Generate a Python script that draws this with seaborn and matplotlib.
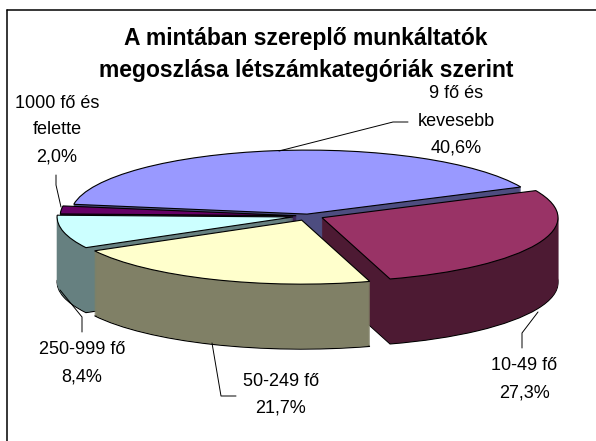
import matplotlib
matplotlib.use("Agg")
import matplotlib.pyplot as plt
import seaborn as sns

labels = ["9 fő és\nkevesebb", "10-49 fő", "50-249 fő", "250-999 fő", "1000 fő és\nfelette"]
values = [40.6, 27.3, 21.7, 8.4, 2.0]
value_text = ["40,6%", "27,3%", "21,7%", "8,4%", "2,0%"]
title_lines = ["A mintában szereplő munkáltatók", "megoszlása létszámkategóriák szerint"]

top_colors = sns.color_palette(["#9999FF", "#993366", "#FFFFCC", "#CCFFFF", "#660066"])
side_colors = sns.color_palette(["#4D4D80", "#4D1A33", "#808066", "#668080", "#330033"])

explode = [0.03, 0.065, 0.07, 0.065, 0.05]
paint_rank = [0, 1, 4, 3, 2]
label_xy = [(456, 94), (524, 366), (281, 381), (82, 350), (57, 103)]
leaders = [
    [(279, 151), (393, 122), (408, 122)],
    [(538, 312), (522, 333), (522, 348)],
    [(212, 343), (221, 396), (236, 396)],
    [(60, 290), (82, 317), (82, 332)],
    [(56, 175), (56, 185), (61, 207)],
]

W, H = 596, 441
CX, CY, RX, RY, DEPTH = 308, 216, 236, 64, 65

sns.set_theme(style="white")
plt.rcParams["font.family"] = ["Liberation Sans", "DejaVu Sans"]

fig = plt.figure(figsize=(W / 100, H / 100), dpi=100, facecolor="white")
ax = fig.add_axes([0, 0, 1, 1])

for layer in range(DEPTH + 1):
    is_top = layer == DEPTH
    is_bottom = layer == 0
    wedges, _ = ax.pie(
        values, explode=explode, startangle=171.2, counterclock=False, radius=1,
        center=(0, -(DEPTH - layer) / RY),
        colors=top_colors if is_top else side_colors,
    )
    for i, w in enumerate(wedges):
        w.set_zorder(paint_rank[i] * 1000 + layer + 1)
        if is_top or is_bottom:
            w.set_edgecolor("black")
            w.set_linewidth(0.8)
        else:
            w.set_edgecolor(side_colors[i])
            w.set_linewidth(0.3)

ax.set_aspect("auto")
ax.set_xlim(-CX / RX, (W - CX) / RX)
ax.set_ylim(-(H - CY) / RY, CY / RY)
ax.axis("off")

ov = fig.add_axes([0, 0, 1, 1], facecolor="none")
ov.set_xlim(0, W)
ov.set_ylim(H, 0)
ov.axis("off")
ov.plot([7, 7], [H, 10], color="black", lw=1.1)
ov.plot([7, W], [10, 10], color="black", lw=1.1)
for k, line in enumerate(title_lines):
    ov.text(306, 39 + k * 32, line, ha="center", va="center", fontsize=16.5,
            fontweight="bold", color="black")
for (x, y), lab, val in zip(label_xy, labels, value_text):
    for k, line in enumerate((lab + "\n" + val).split("\n")):
        ov.text(x, y + k * 27, line, ha="center", va="center", fontsize=13, color="black")
for pts in leaders:
    ov.plot([p[0] for p in pts], [p[1] for p in pts], color="black", lw=0.7)

fig.savefig("out.png", dpi=100)
